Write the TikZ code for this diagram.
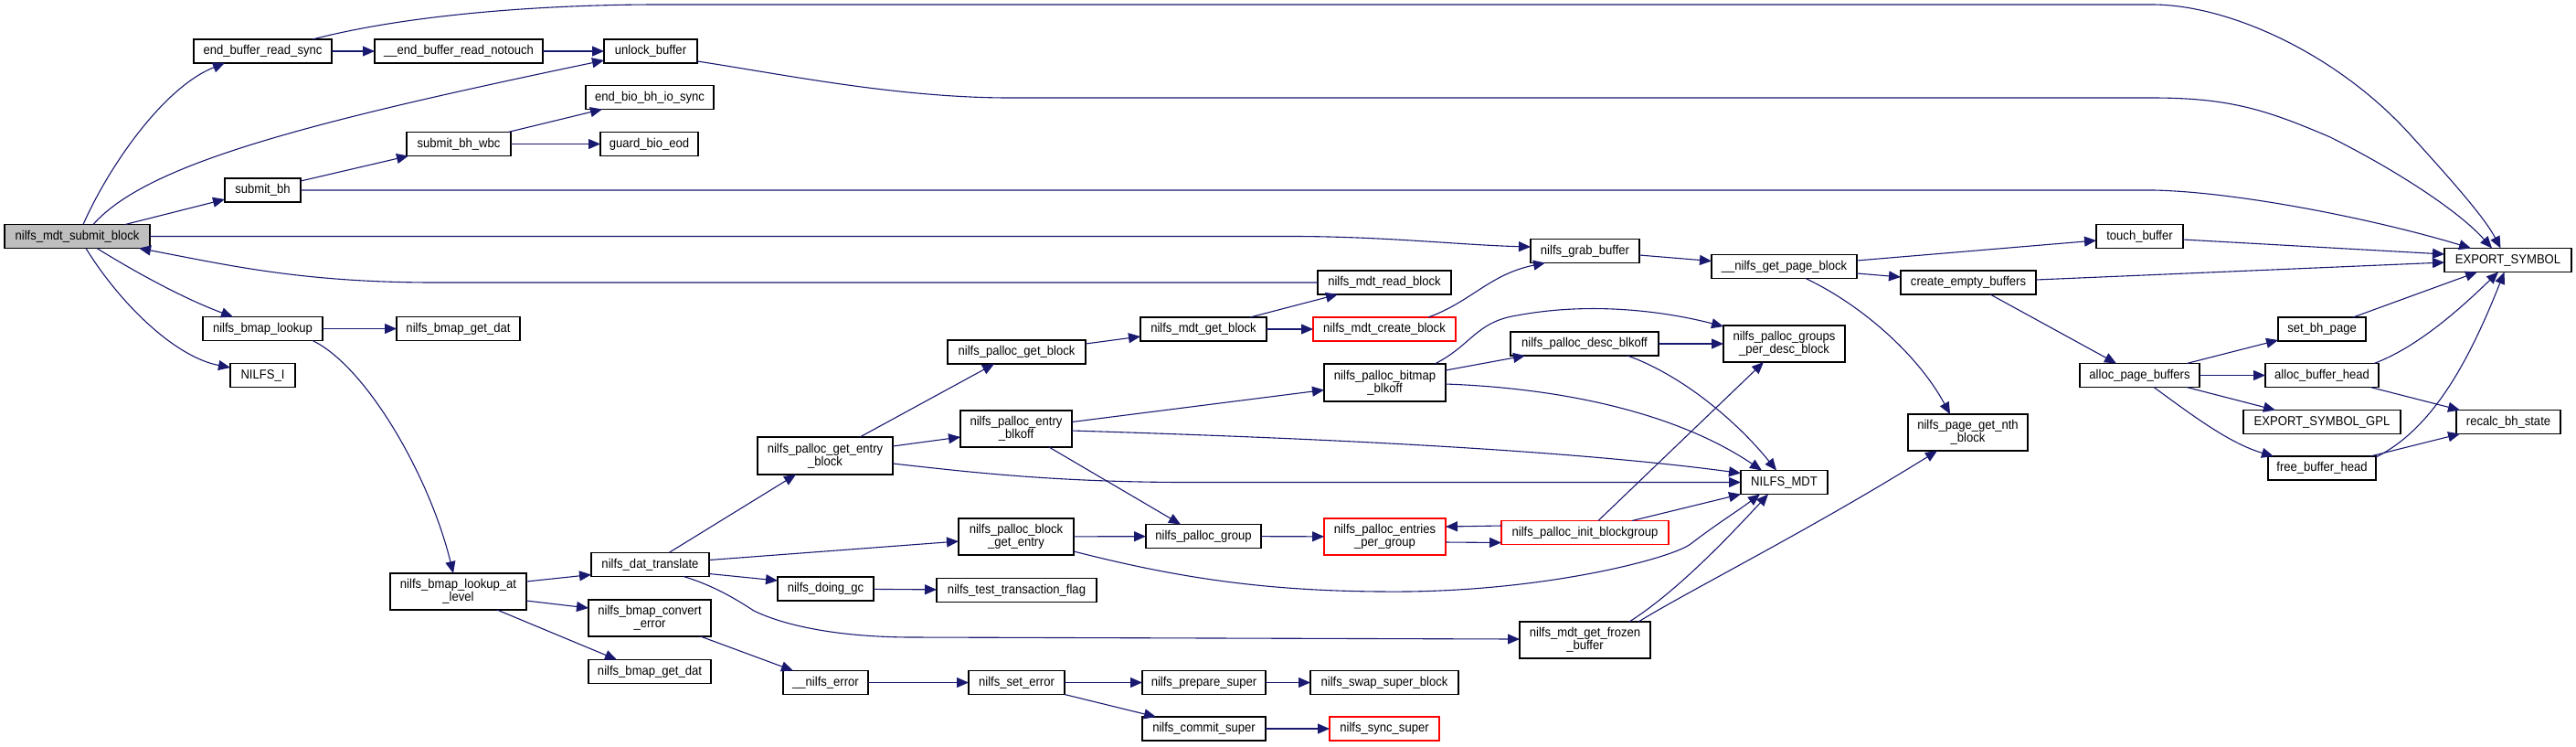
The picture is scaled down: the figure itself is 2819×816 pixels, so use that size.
\documentclass[tikz,border=0pt]{standalone}
\usepackage{fontspec}
\setmainfont[FakeStretch=0.92]{Liberation Sans}
\usetikzlibrary{arrows.meta,calc}
\definecolor{edgeblue}{RGB}{25,25,112}
\definecolor{maingray}{RGB}{191,191,191}
\tikzset{
  box/.style={draw=black,line width=0.6pt,fill=white,inner sep=0pt,outer sep=0pt,
    align=center,font=\fontsize{7.1}{6.8}\selectfont},
  redbox/.style={draw=red},
  mainbox/.style={fill=maingray},
  plain/.style={},
  e/.style={draw=edgeblue,line width=0.55pt,-{Triangle[length=6.5pt,width=5.5pt]},fill=none},
}
\newcommand\nd[7]{\node[box,#6,minimum width={#4*0.5pt},minimum height={#5*0.5pt}] (#1) at (#2,#3) {#7};}
\begin{document}
\begin{tikzpicture}[x=0.5pt,y=-0.5pt]
\useasboundingbox (0,0) rectangle (2819,816);
% nodes
\nd{main}{84.5}{258.5}{159}{26}{mainbox}{nilfs\_mdt\_submit\_block}
\nd{ebrs}{287.5}{56}{151}{26}{plain}{end\_buffer\_read\_sync}
\nd{ebrn}{502}{56}{184}{26}{plain}{\_\_end\_buffer\_read\_notouch}
\nd{unlock}{712}{56}{102}{26}{plain}{unlock\_buffer}
\nd{ebio}{711}{106.5}{140}{26}{plain}{end\_bio\_bh\_io\_sync}
\nd{wbc}{502}{157.5}{114}{26}{plain}{submit\_bh\_wbc}
\nd{guard}{710.5}{157.5}{107}{26}{plain}{guard\_bio\_eod}
\nd{sbh}{287.5}{208}{83}{26}{plain}{submit\_bh}
\nd{blook}{287.5}{359.5}{131}{26}{plain}{nilfs\_bmap\_lookup}
\nd{gdat1}{501.5}{359.5}{135}{26}{plain}{nilfs\_bmap\_get\_dat}
\nd{nilfsi}{287.5}{410.5}{71}{26}{plain}{NILFS\_I}
\nd{lal}{501.5}{647}{149}{40}{plain}{nilfs\_bmap\_lookup\_at\\\_level}
\nd{dat}{711.5}{617.5}{129}{26}{plain}{nilfs\_dat\_translate}
\nd{conv}{711}{676}{134}{40}{plain}{nilfs\_bmap\_convert\\\_error}
\nd{gdat2}{711}{734.5}{134}{26}{plain}{nilfs\_bmap\_get\_dat}
\nd{pgeb}{903}{498.5}{148}{41}{plain}{nilfs\_palloc\_get\_entry\\\_block}
\nd{pgb}{1112.5}{385}{151}{26}{plain}{nilfs\_palloc\_get\_block}
\nd{mgb}{1317}{360}{138}{26}{plain}{nilfs\_mdt\_get\_block}
\nd{peb}{1112}{469}{122}{40}{plain}{nilfs\_palloc\_entry\\\_blkoff}
\nd{pbge}{1112}{587}{126}{40}{plain}{nilfs\_palloc\_block\\\_get\_entry}
\nd{pgrp}{1317}{586.5}{126}{26}{plain}{nilfs\_palloc\_group}
\nd{gc}{903.5}{644}{105}{26}{plain}{nilfs\_doing\_gc}
\nd{ttf}{1112.5}{645.5}{175}{26}{plain}{nilfs\_test\_transaction\_flag}
\nd{err}{903.5}{746.5}{93}{26}{plain}{\_\_nilfs\_error}
\nd{seterr}{1112.5}{746.5}{105}{26}{plain}{nilfs\_set\_error}
\nd{prep}{1317.5}{746.5}{135}{26}{plain}{nilfs\_prepare\_super}
\nd{commit}{1317.5}{797}{135}{26}{plain}{nilfs\_commit\_super}
\nd{grab}{1734.5}{274.5}{119}{26}{plain}{nilfs\_grab\_buffer}
\nd{gpb}{1952.5}{291.5}{159}{26}{plain}{\_\_nilfs\_get\_page\_block}
\nd{mrb}{1515}{309}{146}{26}{plain}{nilfs\_mdt\_read\_block}
\nd{mcb}{1515}{360}{156}{26}{redbox}{nilfs\_mdt\_create\_block}
\nd{pdesc}{1734}{376}{162}{26}{plain}{nilfs\_palloc\_desc\_blkoff}
\nd{gpd}{1952.5}{376}{133}{40}{plain}{nilfs\_palloc\_groups\\\_per\_desc\_block}
\nd{bb}{1515.5}{418.5}{133}{41}{plain}{nilfs\_palloc\_bitmap\\\_blkoff}
\nd{mdt}{1952.5}{527.5}{95}{26}{plain}{NILFS\_MDT}
\nd{pgnb}{2153.5}{473}{131}{40}{plain}{nilfs\_page\_get\_nth\\\_block}
\nd{epg}{1515.5}{587}{133}{40}{redbox}{nilfs\_palloc\_entries\\\_per\_group}
\nd{ib}{1734.5}{582.5}{183}{26}{redbox}{nilfs\_palloc\_init\_blockgroup}
\nd{frozen}{1734.5}{700}{143}{40}{plain}{nilfs\_mdt\_get\_frozen\\\_buffer}
\nd{swap}{1515}{746.5}{162}{26}{plain}{nilfs\_swap\_super\_block}
\nd{sync}{1515}{797}{120}{26}{redbox}{nilfs\_sync\_super}
\nd{touch}{2341.5}{258.5}{95}{26}{plain}{touch\_buffer}
\nd{ceb}{2154}{309}{148}{26}{plain}{create\_empty\_buffers}
\nd{es}{2744.5}{284.5}{139}{26}{plain}{EXPORT\_SYMBOL}
\nd{sbp}{2541}{360}{96}{26}{plain}{set\_bh\_page}
\nd{apb}{2341.5}{410.5}{131}{26}{plain}{alloc\_page\_buffers}
\nd{abh}{2541}{410.5}{124}{26}{plain}{alloc\_buffer\_head}
\nd{esg}{2541}{461.5}{172}{26}{plain}{EXPORT\_SYMBOL\_GPL}
\nd{rbs}{2745}{461.5}{114}{26}{plain}{recalc\_bh\_state}
\nd{fbh}{2541}{512}{118}{26}{plain}{free\_buffer\_head}
% edges
\draw[e] ($(main.north)+(6.5,0)$) .. controls (120,180) and (180,95) .. ($(ebrs.south west)+(34,0)$);
\draw[e] ($(main.north)+(17.5,0)$) .. controls (160,180) and (330,135) .. ($(unlock.west)+(0,10)$);
\draw[e] ($(main.north east)+(-27,0)$) -- ($(sbh.south west)+(0,-3)$);
\draw[e] (main.east) -- (1420,258.5) .. controls (1520,259) and (1600,268) .. ($(grab.west)+(0,-4.5)$);
\draw[e] (mrb.west) -- (477,309) .. controls (330,309) and (250,290) .. ($(main.south east)+(-12,0)$);
\draw[e] ($(main.south)+(21.5,0)$) .. controls (160,305) and (210,330) .. ($(blook.north west)+(33,0)$);
\draw[e] ($(main.south)+(9.5,0)$) .. controls (130,330) and (190,390) .. ($(nilfsi.west)+(0,-8.5)$);
\draw[e] (ebrs) -- (ebrn);
\draw[e] (ebrn) -- (unlock);
\draw[e] ($(ebrs.north east)+(-21,0)$) .. controls (450,15) and (600,5) .. (720,5) -- (2355,5) .. controls (2440,5) and (2560,60) .. (2640,150) .. controls (2690,205) and (2720,240) .. ($(es.north)+(-8,0)$);
\draw[e] ($(unlock.south east)+(0,-2)$) .. controls (850,80) and (980,107) .. (1105,107) -- (2355,107) .. controls (2440,107) and (2480,120) .. (2550,150) .. controls (2620,185) and (2690,230) .. ($(es.north)+(-17.5,0)$);
\draw[e] ($(sbh.north east)+(0,3)$) -- ($(wbc.south west)+(2,0)$);
\draw[e] (sbh.east) -- (2357,208) .. controls (2450,210) and (2600,240) .. ($(es.north west)+(29,0)$);
\draw[e] ($(wbc.north east)+(-3,0)$) -- ($(ebio.south west)+(18,0)$);
\draw[e] (wbc) -- (guard);
\draw[e] (blook) -- (gdat1);
\draw[e] ($(blook.south east)+(-11,0)$) .. controls (400,400) and (470,520) .. ($(lal.north)+(-5.5,0)$);
\draw[e] ($(lal.north east)+(0,9)$) -- ($(dat.south west)+(0,-2)$);
\draw[e] ($(lal.east)+(0,10)$) -- ($(conv.north west)+(0,9)$);
\draw[e] ($(lal.south east)+(-32,0)$) -- ($(gdat2.north west)+(31,0)$);
\draw[e] ($(dat.north)+(20.5,0)$) -- ($(pgeb.south west)+(42,0)$);
\draw[e] ($(dat.east)+(0,-5)$) -- ($(pbge.west)+(0,5)$);
\draw[e] ($(dat.south east)+(0,-3)$) -- ($(gc.north west)+(0,4)$);
\draw[e] ($(dat.south)+(36.5,0)$) .. controls (780,640) and (805,655) .. (825,668) .. controls (860,685) and (920,697) .. (1000,697) -- ($(frozen.west)+(0,-1)$);
\draw[e] ($(conv.south)+(55.5,0)$) -- ($(err.north west)+(11,0)$);
\draw[e] (gc) -- (ttf);
\draw[e] (err) -- (seterr);
\draw[e] (seterr) -- (prep);
\draw[e] (seterr.south east) -- ($(commit.north west)+(15,0)$);
\draw[e] (prep) -- (swap);
\draw[e] (commit) -- (sync);
\draw[e] ($(pgeb.north east)+(-36,0)$) -- ($(pgb.south west)+(51,0)$);
\draw[e] ($(pgeb.north east)+(0,10)$) -- ($(peb.west)+(0,9)$);
\draw[e] ($(pgeb.east)+(0,8.5)$) .. controls (1050,515) and (1150,527.5) .. (1300,527.5) -- (mdt.west);
\draw[e] ($(pgb.north east)+(0,4)$) -- ($(mgb.west)+(0,8)$);
\draw[e] ($(mgb.north east)+(-18,0)$) -- ($(mrb.south west)+(22,0)$);
\draw[e] (mgb) -- (mcb);
\draw[e] ($(mcb.north east)+(-30,0)$) .. controls (1610,330) and (1630,300) .. ($(grab.south west)+(16,0)$);
\draw[e] ($(peb.north east)+(0,12.5)$) -- ($(bb.west)+(0,8)$);
\draw[e] ($(peb.east)+(0,2)$) .. controls (1400,478) and (1700,490) .. ($(mdt.north west)+(0,3)$);
\draw[e] ($(peb.south east)+(-25,0)$) -- ($(pgrp.north west)+(38,0)$);
\draw[e] ($(bb.north east)+(0,7)$) -- ($(pdesc.south west)+(16,0)$);
\draw[e] ($(bb.north east)+(-12,0)$) .. controls (1610,378) and (1615,352) .. (1660,345) .. controls (1740,330) and (1820,340) .. ($(gpd.north west)+(0,1)$);
\draw[e] ($(bb.east)+(0,1.5)$) .. controls (1720,425) and (1840,455) .. ($(mdt.north west)+(23,0)$);
\draw[e] (pdesc) -- (gpd);
\draw[e] ($(pdesc.south east)+(-34,0)$) .. controls (1840,410) and (1900,460) .. ($(mdt.north)+(-8.5,0)$);
\draw[e] (pbge) -- (pgrp);
\draw[e] ($(pbge.east)+(0,16)$) .. controls (1300,635) and (1400,648) .. (1540,647) .. controls (1700,645) and (1830,610) .. (1850,595) .. controls (1880,572) and (1900,560) .. ($(mdt.south west)+(21,0)$);
\draw[e] (pgrp) -- (epg);
\draw[e] ($(epg.east)+(0,6)$) -- ($(ib.south west)+(0,-2)$);
\draw[e] ($(ib.west)+(0,-7.5)$) -- ($(epg.east)+(0,-11)$);
\draw[e] ($(ib.north)+(14.5,0)$) -- ($(gpd.south)+(-22.5,0)$);
\draw[e] ($(ib.north east)+(-40,0)$) -- (mdt.south west);
\draw[e] ($(frozen.north east)+(-23,0)$) .. controls (1830,650) and (1880,600) .. ($(mdt.south)+(-17.5,0)$);
\draw[e] ($(frozen.north east)+(-13,0)$) .. controls (1850,645) and (1980,580) .. ($(pgnb.south west)+(32,0)$);
\draw[e] ($(grab.east)+(0,4.5)$) -- ($(gpb.west)+(0,-6)$);
\draw[e] ($(gpb.east)+(0,-6.5)$) -- ($(touch.west)+(0,4.5)$);
\draw[e] ($(gpb.east)+(0,7.5)$) -- ($(ceb.west)+(0,-6)$);
\draw[e] ($(gpb.south)+(23.5,0)$) .. controls (2040,335) and (2100,390) .. ($(pgnb.north)+(-19.5,0)$);
\draw[e] ($(touch.east)+(0,3.5)$) -- ($(es.west)+(0,-6.5)$);
\draw[e] ($(ceb.east)+(0,-3)$) -- ($(es.west)+(0,2.5)$);
\draw[e] ($(ceb.south)+(24,0)$) -- ($(apb.north west)+(40,0)$);
\draw[e] ($(apb.north east)+(-14,0)$) -- ($(sbp.south west)+(0,-1)$);
\draw[e] (apb) -- (abh);
\draw[e] ($(apb.south east)+(-14,0)$) -- ($(esg.north west)+(35,0)$);
\draw[e] ($(apb.south)+(15.5,0)$) .. controls (2400,455) and (2440,485) .. ($(fbh.north west)+(6,0)$);
\draw[e] ($(sbp.north east)+(-14,0)$) -- ($(es.south west)+(36,0)$);
\draw[e] ($(abh.north east)+(-5,0)$) .. controls (2650,378) and (2700,330) .. ($(es.south)+(-10.5,0)$);
\draw[e] ($(abh.south east)+(-9,0)$) -- ($(rbs.north west)+(4,0)$);
\draw[e] ($(fbh.north east)+(-6,0)$) -- ($(rbs.south west)+(4,0)$);
\draw[e] ($(fbh.north east)+(0,1)$) .. controls (2660,470) and (2700,400) .. ($(es.south)+(-4,0)$);
\end{tikzpicture}
\end{document}
